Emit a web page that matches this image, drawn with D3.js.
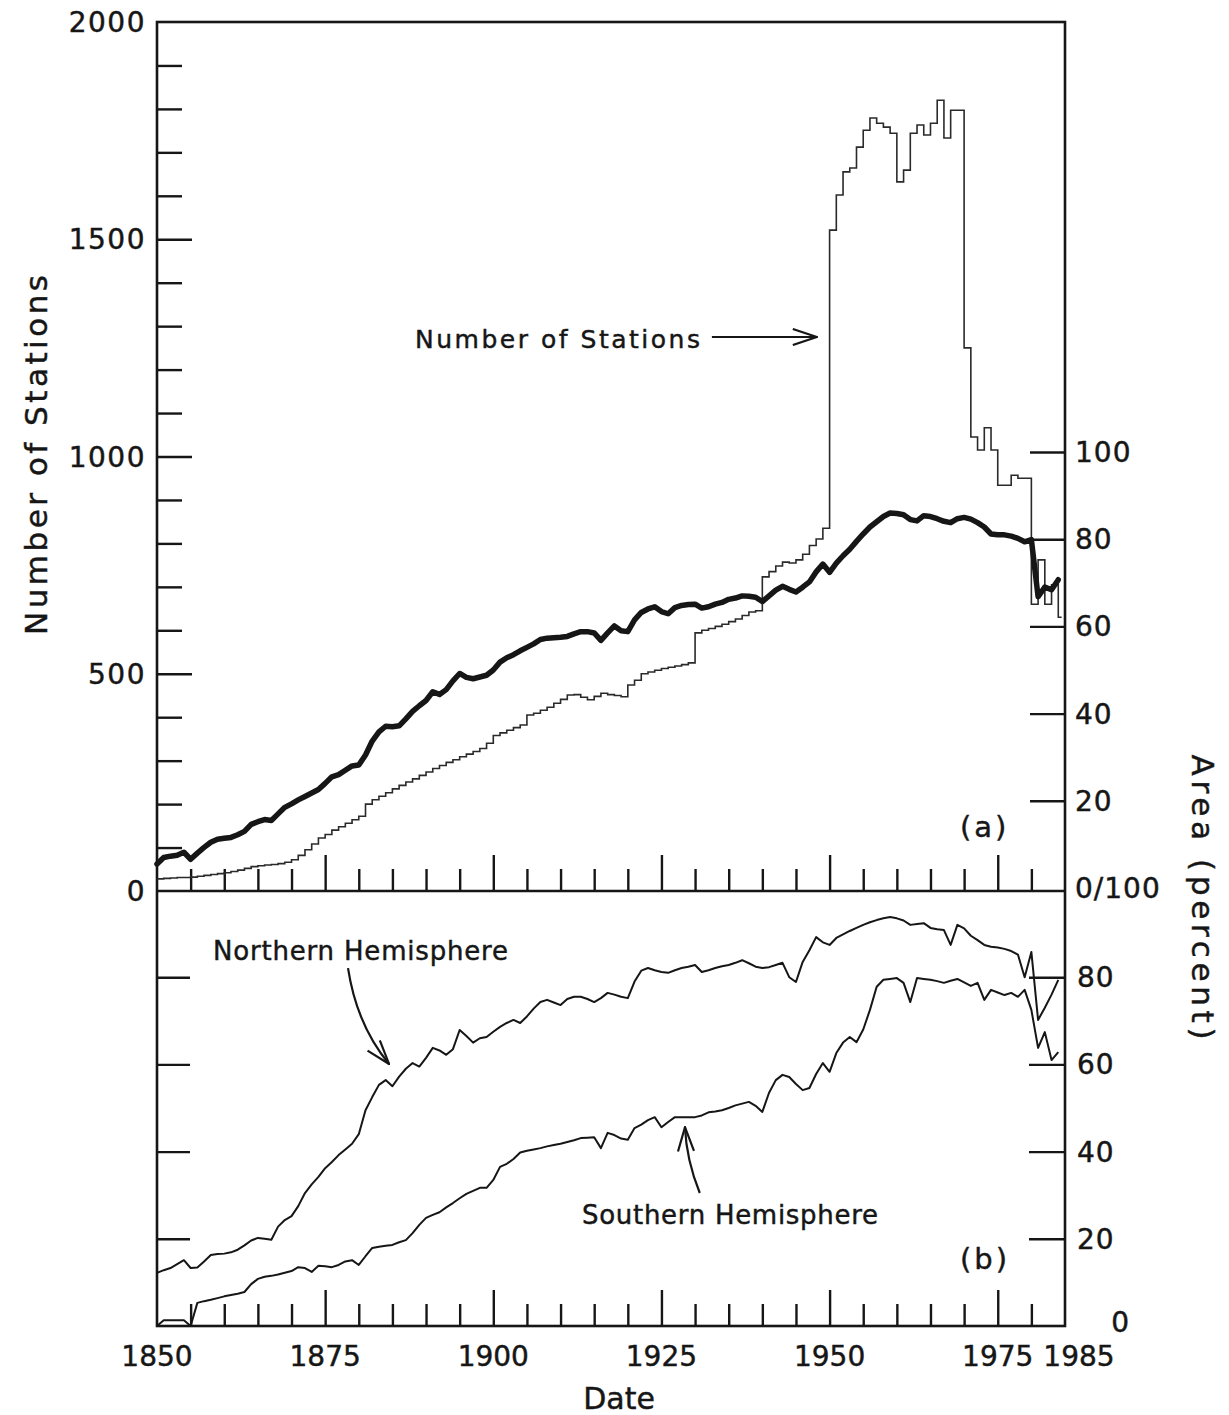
<!DOCTYPE html>
<html><head><meta charset="utf-8">
<script src="https://cdn.jsdelivr.net/npm/d3@7"></script>
<style>
body{margin:0;background:#fff;}
svg{display:block;background:#fff;}
text{font-family:"DejaVu Sans",sans-serif;fill:#161616;stroke:#161616;stroke-width:0.45px;}
</style></head><body>
<svg id="c" width="1229" height="1415"></svg>
<script>
// ---------------- DATA ----------------
const years = d3.range(1850, 1985); // 1850..1984, one value per year

const stations = [
  28,29,30,31,31,32,34,36,38,40,
  42,45,48,52,56,58,60,61,63,66,
  72,82,95,108,122,130,140,148,156,164,
  172,200,210,218,226,235,243,251,258,266,
  274,282,289,296,302,309,315,321,328,340,
  358,364,370,376,382,405,409,416,423,432,
  441,451,452,446,440,448,455,452,450,447,
  474,485,500,504,508,512,515,518,521,525,
  594,600,604,609,614,620,626,634,642,645,
  723,735,748,757,755,762,775,795,810,835,
  1521,1602,1655,1664,1712,1751,1779,1767,1758,1744,
  1632,1659,1744,1763,1740,1767,1820,1733,1797,1797,
  1250,1045,1015,1066,1015,934,934,957,950,950,
  660,762,660,705,630
];

const globalArea = [
  5.5,7.0,7.3,7.5,8.2,6.6,8.0,9.3,10.5,11.2,
  11.4,11.6,12.2,13.0,14.6,15.2,15.7,15.5,17.0,18.5,
  19.3,20.2,21.0,21.8,22.6,24.0,25.5,26.0,27.0,28.0,
  28.2,30.5,33.7,35.8,37.1,37.0,37.2,38.8,40.5,41.8,
  43.0,45.0,44.4,45.5,47.5,49.2,48.3,48.0,48.4,48.8,
  50.0,51.8,52.8,53.5,54.4,55.2,56.0,57.0,57.3,57.4,
  57.5,57.7,58.3,58.8,58.8,58.5,56.8,58.5,60.1,59.0,
  58.8,61.5,63.2,64.0,64.5,63.4,62.9,64.3,64.8,65.0,
  65.1,64.2,64.5,65.1,65.5,66.2,66.5,67.0,66.9,66.7,
  65.7,67.0,68.3,69.2,68.5,67.9,69.0,70.2,72.5,74.3,
  72.4,74.5,76.2,77.7,79.5,81.2,82.8,84.0,85.2,86.0,
  85.9,85.6,84.5,84.2,85.4,85.2,84.7,84.1,83.8,84.7,
  85.0,84.6,83.8,82.8,81.2,81.0,81.0,80.7,80.2,79.4,
  79.9,66.8,69.0,68.4,70.7
];

const northArea = [
  12.2,12.8,13.3,14.2,15.1,13.3,13.4,14.8,16.3,16.5,
  16.6,16.9,17.5,18.5,19.6,20.2,20.0,19.8,22.8,24.3,
  25.2,27.5,30.5,32.5,34.2,36.2,37.6,39.2,40.5,41.8,
  44.0,49.5,52.5,55.3,56.4,55.0,57.2,59.0,60.3,59.5,
  61.5,63.8,63.2,62.2,63.5,67.9,66.5,65.0,66.0,66.3,
  67.5,68.6,69.5,70.2,69.5,71.0,72.8,74.3,74.8,74.2,
  73.6,75.0,75.5,75.5,75.0,74.3,75.2,76.4,76.0,75.5,
  75.2,79.0,81.5,82.1,81.6,81.2,81.0,81.6,82.1,82.4,
  82.8,81.2,81.6,82.1,82.5,82.8,83.3,83.9,83.2,82.4,
  82.1,82.3,82.8,83.3,80.0,78.9,83.5,86.2,89.2,88.0,
  87.4,89.0,89.8,90.6,91.3,92.0,92.6,93.1,93.5,93.8,
  93.5,93.0,92.0,92.2,92.4,91.3,91.0,90.8,87.4,92.0,
  91.2,89.5,88.5,87.4,87.0,86.8,86.5,86.0,85.2,80.0,
  85.8,70.2,73.0,76.0,79.4
];

const southArea = [
  0,1.3,1.3,1.3,1.3,0,5.3,5.7,6.0,6.4,
  6.8,7.1,7.4,7.8,9.6,10.8,11.3,11.5,11.8,12.2,
  12.6,13.5,13.3,12.4,13.8,13.7,13.5,14.0,14.8,15.1,
  14.0,16.0,17.9,18.2,18.4,18.6,19.2,19.7,21.3,23.2,
  24.8,25.5,26.1,27.2,28.2,29.3,30.3,31.0,31.7,31.7,
  33.5,36.5,37.2,38.3,39.8,40.2,40.5,40.8,41.2,41.5,
  41.8,42.2,42.6,43.1,43.2,43.3,40.8,44.3,43.8,43.0,
  42.7,45.4,46.2,47.2,47.9,45.6,46.8,47.9,47.9,47.9,
  47.9,48.3,49.0,49.2,49.5,50.0,50.6,51.0,51.4,50.5,
  49.1,53.5,56.4,57.6,57.1,55.5,54.1,54.6,57.8,60.3,
  58.3,62.6,65.0,66.3,65.1,68.0,72.5,77.8,79.4,79.6,
  79.8,78.7,74.3,79.8,79.6,79.4,79.1,78.7,79.2,79.6,
  78.8,78.0,78.7,74.8,77.1,76.5,75.9,76.4,75.5,77.1,
  72.5,63.8,67.4,61.0,62.8
];

const stationTickLabels = [0, 500, 1000, 1500, 2000];
const stationMajorTicks = [500, 1000, 1500];
const stationMinorTicks = [100,200,300,400,600,700,800,900,1100,1200,1300,1400,1600,1700,1800,1900];
const areaTicksA = [20, 40, 60, 80, 100];
const areaLabelsA = ["0/100", "20", "40", "60", "80", "100"];
const areaLabelValuesA = [0, 20, 40, 60, 80, 100];
const areaTicksB = [20, 40, 60, 80];
const areaLabelValuesB = [20, 40, 60, 80];
const yearLabels = [1850, 1875, 1900, 1925, 1950, 1975, 1985];
const yearMajorTicks = [1875, 1900, 1925, 1950, 1975];
const yearMinorTicks = [1855,1860,1865,1870,1880,1885,1890,1895,1905,1910,1915,1920,1930,1935,1940,1945,1955,1960,1965,1970,1980];

// ---------------- LAYOUT ----------------
const L = 157, R = 1065, T = 22, M = 891, B = 1326;
const svg = d3.select('#c');

const x  = d3.scaleLinear().domain([1850, 1985]).range([L, R]);
const yS = d3.scaleLinear().domain([0, 2000]).range([M, T]);
const yA = d3.scaleLinear().domain([0, 100]).range([888, 452]);
const yB = d3.scaleLinear().domain([0, 100]).range([B, 890]);

const ink = '#161616';

// arrow marker (open V)
const defs = svg.append('defs');
defs.append('marker').attr('id', 'arr')
  .attr('markerUnits', 'userSpaceOnUse')
  .attr('viewBox', '0 0 26 18').attr('refX', 25).attr('refY', 9)
  .attr('markerWidth', 26).attr('markerHeight', 18).attr('orient', 'auto')
  .append('path').attr('d', 'M1,1 L25,9 L1,17')
  .attr('fill', 'none').attr('stroke', ink).attr('stroke-width', 2.2)
  .attr('stroke-linejoin', 'miter');

// ---------- ticks via d3 axes ----------
function styleAxis(g) {
  g.select('.domain').remove();
  g.selectAll('.tick line').attr('stroke', ink).attr('stroke-width', 2.4);
  g.selectAll('.tick text').remove();
}
svg.append('g').attr('transform', `translate(${L},0)`)
  .call(d3.axisRight(yS).tickValues(stationMinorTicks).tickSize(25)).call(styleAxis);
svg.append('g').attr('transform', `translate(${L},0)`)
  .call(d3.axisRight(yS).tickValues(stationMajorTicks).tickSize(35)).call(styleAxis);
svg.append('g').attr('transform', `translate(${R},0)`)
  .call(d3.axisLeft(yA).tickValues(areaTicksA).tickSize(35)).call(styleAxis);
svg.append('g').attr('transform', `translate(${L},0)`)
  .call(d3.axisRight(yB).tickValues(areaTicksB).tickSize(33)).call(styleAxis);
svg.append('g').attr('transform', `translate(${R},0)`)
  .call(d3.axisLeft(yB).tickValues(areaTicksB).tickSize(36)).call(styleAxis);
[M, B].forEach(yy => {
  svg.append('g').attr('transform', `translate(0,${yy})`)
    .call(d3.axisTop(x).tickValues(yearMinorTicks).tickSize(22)).call(styleAxis);
  svg.append('g').attr('transform', `translate(0,${yy})`)
    .call(d3.axisTop(x).tickValues(yearMajorTicks).tickSize(36)).call(styleAxis);
});

// ---------- frame ----------
svg.append('rect').attr('x', L).attr('y', T).attr('width', R - L).attr('height', B - T)
  .attr('fill', 'none').attr('stroke', ink).attr('stroke-width', 2.6);
svg.append('line').attr('x1', L).attr('x2', R).attr('y1', M).attr('y2', M)
  .attr('stroke', ink).attr('stroke-width', 2.6);

// ---------- series ----------
const stationPts = years.map((yr, i) => [yr, stations[i]]);
stationPts.push([years[years.length - 1] + 0.5, stations[stations.length - 1]]);
svg.append('path').datum(stationPts)
  .attr('d', d3.line().x(d => x(d[0])).y(d => yS(d[1])).curve(d3.curveStepAfter))
  .attr('fill', 'none').attr('stroke', '#2a2a2a').attr('stroke-width', 1.6);

svg.append('path').datum(years.map((yr, i) => [yr, globalArea[i]]))
  .attr('d', d3.line().x(d => x(d[0])).y(d => yA(d[1])))
  .attr('fill', 'none').attr('stroke', ink).attr('stroke-width', 5.5)
  .attr('stroke-linejoin', 'round').attr('stroke-linecap', 'round');

[northArea, southArea].forEach(arr => {
  svg.append('path').datum(years.map((yr, i) => [yr, arr[i]]))
    .attr('d', d3.line().x(d => x(d[0])).y(d => yB(d[1])))
    .attr('fill', 'none').attr('stroke', ink).attr('stroke-width', 2)
    .attr('stroke-linejoin', 'round');
});

// ---------- tick labels ----------
const numFont = 28;
svg.append('g').selectAll('text').data(stationTickLabels).join('text')
  .attr('x', L - 11).attr('y', d => yS(d)).attr('dy', '0.36em')
  .attr('text-anchor', 'end').attr('font-size', numFont).attr('letter-spacing', 1.5).text(d => d);

svg.append('g').selectAll('text').data(areaLabelValuesA).join('text')
  .attr('x', R + 10).attr('y', d => yA(d)).attr('dy', '0.36em')
  .attr('font-size', numFont).attr('letter-spacing', 1).text((d, i) => areaLabelsA[i]);

svg.append('g').selectAll('text').data(areaLabelValuesB).join('text')
  .attr('x', R + 12).attr('y', d => yB(d)).attr('dy', '0.36em')
  .attr('font-size', numFont).attr('letter-spacing', 1).text(d => d);
svg.append('text').attr('x', R + 64).attr('y', yB(0)).attr('dy', '0.2em')
  .attr('text-anchor', 'end').attr('font-size', numFont).text('0');

svg.append('g').selectAll('text').data(yearLabels).join('text')
  .attr('x', d => x(d) + (d === 1985 ? 14 : 0)).attr('y', 1366)
  .attr('text-anchor', 'middle').attr('font-size', numFont).text(d => d);

// ---------- axis titles ----------
svg.append('text').attr('transform', 'translate(47,455) rotate(-90)')
  .attr('text-anchor', 'middle').attr('font-size', 31)
  .attr('textLength', 360).attr('lengthAdjust', 'spacing')
  .text('Number of Stations');
svg.append('text').attr('transform', 'translate(1192,897) rotate(90)')
  .attr('text-anchor', 'middle').attr('font-size', 31)
  .attr('textLength', 285).attr('lengthAdjust', 'spacing')
  .text('Area (percent)');
svg.append('text').attr('x', 619).attr('y', 1409)
  .attr('text-anchor', 'middle').attr('font-size', 30).text('Date');

// ---------- annotations ----------
svg.append('text').attr('x', 415).attr('y', 348).attr('font-size', 25)
  .attr('textLength', 285).attr('lengthAdjust', 'spacing').text('Number of Stations');
svg.append('line')
  .attr('x1', x(1932.5)).attr('y1', yS(1275)).attr('x2', x(1948.1)).attr('y2', yS(1275))
  .attr('stroke', ink).attr('stroke-width', 2.2).attr('marker-end', 'url(#arr)');

svg.append('text').attr('x', 213).attr('y', 960).attr('font-size', 26)
  .attr('textLength', 295).attr('lengthAdjust', 'spacing').text('Northern Hemisphere');
svg.append('path')
  .attr('d', `M${x(1878.4)},${yB(82.1)} Q${x(1879.7)},${yB(69.0)} ${x(1884.5)},${yB(60.1)}`)
  .attr('fill', 'none').attr('stroke', ink).attr('stroke-width', 2.2).attr('marker-end', 'url(#arr)');

svg.append('text').attr('x', 582).attr('y', 1224).attr('font-size', 26)
  .attr('textLength', 296).attr('lengthAdjust', 'spacing').text('Southern Hemisphere');
svg.append('path')
  .attr('d', `M${x(1930.7)},${yB(30.5)} Q${x(1928.7)},${yB(38.2)} ${x(1928.5)},${yB(45.6)}`)
  .attr('fill', 'none').attr('stroke', ink).attr('stroke-width', 2.2).attr('marker-end', 'url(#arr)');

svg.append('text').attr('x', 960).attr('y', 837).attr('font-size', 29)
  .attr('letter-spacing', 3).text('(a)');
svg.append('text').attr('x', 960).attr('y', 1269).attr('font-size', 29)
  .attr('letter-spacing', 3).text('(b)');
</script>
</body></html>
